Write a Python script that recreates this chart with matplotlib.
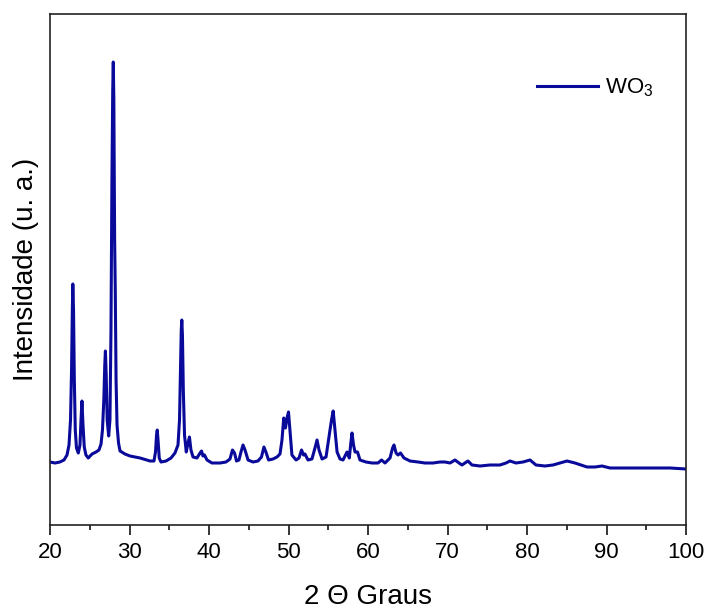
import matplotlib
matplotlib.use("Agg")
import matplotlib.pyplot as plt
from matplotlib.ticker import MultipleLocator

plt.rcParams['font.family'] = ['Liberation Sans', 'DejaVu Sans']
plt.rcParams['mathtext.fontset'] = 'custom'
plt.rcParams['mathtext.rm'] = 'Liberation Sans'
plt.rcParams['mathtext.it'] = 'Liberation Sans:italic'
plt.rcParams['mathtext.bf'] = 'Liberation Sans:bold'

two_theta = [
    20.00, 20.63, 21.25, 21.76, 22.14, 22.39, 22.58, 22.71, 22.81, 22.87,
    22.96, 23.06, 23.18, 23.33, 23.56, 23.77, 23.90, 24.02, 24.15, 24.31,
    24.52, 24.81, 25.29, 25.79, 26.16, 26.42, 26.60, 26.77, 26.89, 26.97,
    27.07, 27.19, 27.38, 27.54, 27.67, 27.79, 27.89, 27.96, 28.03, 28.13,
    28.21, 28.31, 28.43, 28.62, 28.81, 29.43, 30.06, 31.33, 32.58, 33.08,
    33.27, 33.40, 33.49, 33.59, 33.74, 33.96, 34.60, 35.22, 35.72, 36.10,
    36.29, 36.41, 36.51, 36.58, 36.66, 36.77, 36.92, 37.14, 37.36, 37.54,
    37.73, 37.99, 38.49, 38.87, 39.06, 39.24, 39.43, 39.75, 40.37, 41.39,
    42.14, 42.64, 42.95, 43.21, 43.46, 43.77, 44.02, 44.28, 44.53, 44.91,
    45.53, 46.16, 46.60, 46.91, 47.16, 47.49, 48.05, 48.55, 48.93, 49.18,
    49.40, 49.62, 49.81, 50.00, 50.18, 50.43, 50.95, 51.32, 51.64, 51.89,
    52.07, 52.45, 52.95, 53.33, 53.59, 53.84, 54.22, 54.72, 55.03, 55.22,
    55.41, 55.62, 55.85, 56.11, 56.48, 56.86, 57.17, 57.36, 57.65, 57.84,
    57.99, 58.18, 58.37, 58.68, 58.99, 59.74, 60.51, 61.26, 61.70, 62.14,
    62.77, 63.09, 63.27, 63.53, 63.78, 64.09, 64.53, 65.28, 66.29, 67.17,
    68.18, 69.06, 69.69, 70.32, 70.94, 71.45, 71.82, 72.57, 73.08, 74.09,
    75.34, 76.60, 77.36, 77.86, 78.61, 79.50, 80.38, 81.13, 82.26, 83.27,
    84.15, 85.03, 86.03, 87.55, 88.55, 89.44, 90.44, 92.32, 94.22, 96.10,
    98.00, 100.00,
]
intensity = [
    63, 62, 63, 65, 70, 80, 105, 155, 215, 241,
    215, 145, 95, 77, 72, 80, 105, 124, 100, 78,
    70, 67, 71, 73, 75, 81, 95, 125, 160, 174,
    150, 105, 89, 105, 195, 345, 435, 463, 425, 285,
    235, 145, 100, 82, 74, 71, 69, 67, 64, 64,
    73, 90, 95, 85, 67, 63, 64, 67, 72, 80,
    105, 155, 195, 205, 190, 135, 90, 73, 82, 88,
    75, 68, 67, 72, 74, 69, 70, 65, 62, 62,
    63, 66, 75, 72, 64, 65, 73, 80, 75, 65,
    63, 64, 68, 78, 73, 65, 66, 68, 71, 85,
    107, 97, 107, 113, 95, 70, 65, 67, 75, 70,
    71, 65, 66, 77, 85, 75, 66, 68, 85, 95,
    105, 114, 95, 73, 66, 65, 70, 73, 67, 82,
    92, 80, 73, 73, 65, 63, 62, 62, 65, 62,
    67, 77, 80, 72, 70, 72, 67, 64, 63, 62,
    62, 63, 63, 62, 65, 62, 60, 64, 60, 59,
    60, 60, 62, 64, 62, 63, 65, 60, 59, 60,
    62, 64, 62, 58, 58, 59, 57, 57, 57, 57,
    57, 56,
]
series_label = "WO$_3$"
x_ticks = [20, 30, 40, 50, 60, 70, 80, 90, 100]

W, H = 709, 608
fig = plt.figure(figsize=(W / 100, H / 100), dpi=100)
ax = fig.add_axes([50 / W, 83 / H, 636 / W, 511 / H])

ax.plot(two_theta, intensity, color='#0A0A9A', lw=2.2, label=series_label,
        solid_joinstyle='round')

ax.set_xlim(20, 100)
ax.set_ylim(0, 511)
ax.set_xticks(x_ticks)
ax.xaxis.set_minor_locator(MultipleLocator(5))
ax.set_yticks([])
ax.tick_params(axis='x', which='major', direction='out', length=7, width=1.1,
               labelsize=16, pad=5, colors='black')
ax.tick_params(axis='x', which='minor', direction='out', length=3.6, width=1.1)
for s in ax.spines.values():
    s.set_linewidth(1.2)
    s.set_color('#222222')

ax.set_xlabel("2 Θ Graus", fontsize=20, labelpad=15)
ax.set_ylabel("Intensidade (u. a.)", fontsize=20, labelpad=8)

ax.legend(loc='center left', bbox_to_anchor=((537 - 50) / 636, (525 - 88) / 511),
          frameon=False, fontsize=16, handlelength=2.75, handletextpad=0.3,
          borderpad=0, borderaxespad=0)

fig.savefig("out.png", dpi=100)
